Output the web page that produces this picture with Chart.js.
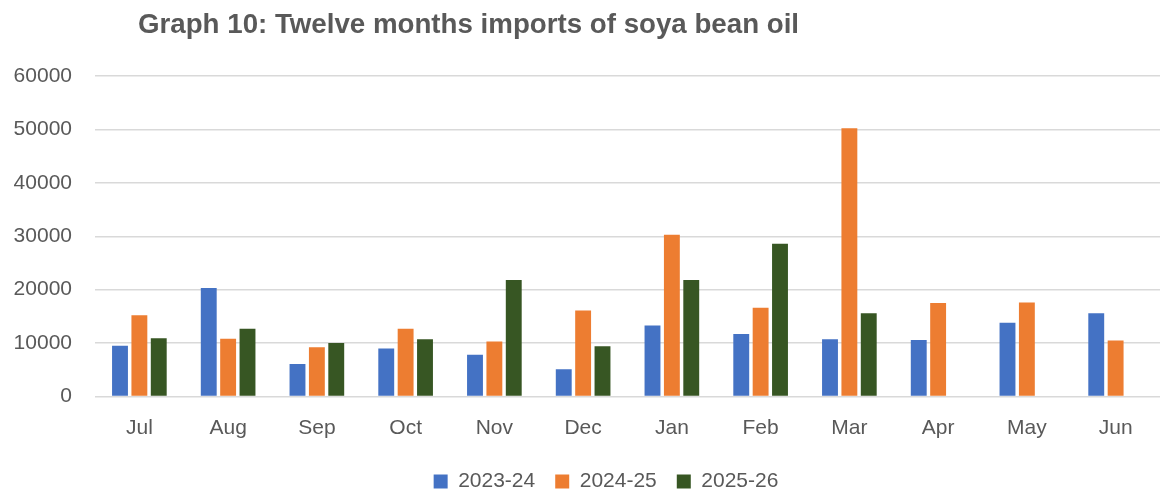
<!DOCTYPE html>
<html>
<head>
<meta charset="utf-8">
<script src="https://cdn.jsdelivr.net/npm/chart.js@4"></script>
<style>
  html, body { margin: 0; padding: 0; background: #ffffff; overflow: hidden; }
  #wrap { position: relative; width: 1176px; height: 493px; overflow: hidden; }
  #title { position: absolute; left: 138px; top: 8px; font-family: "Liberation Sans", Arial, sans-serif; font-weight: bold; font-size: 27.7px; color: #595959; white-space: nowrap; }
  canvas { position: absolute; left: 0; top: 0; }
</style>
</head>
<body>
<div id="wrap">
  <canvas id="c" width="1176" height="502"></canvas>
  <div id="title">Graph 10: Twelve months imports of soya bean oil</div>
</div>
<script>
const months = ["Jul","Aug","Sep","Oct","Nov","Dec","Jan","Feb","Mar","Apr","May","Jun"];
const seriesNames = ["2023-24","2024-25","2025-26"];
const s2023_24 = [9500, 20300, 6100, 9000, 7800, 5100, 13300, 11700, 10700, 10600, 13800, 15600];
const s2024_25 = [15200, 10800, 9200, 12700, 10300, 16100, 30300, 16600, 50200, 17500, 17600, 10500];
const s2025_26 = [10900, 12700, 10000, 10700, 21800, 9400, 21800, 28600, 15600, null, null, null];
const yTicks = [0, 10000, 20000, 30000, 40000, 50000, 60000];
const colors = ["#4472C4", "#ED7D31", "#375623"];

const font = { family: "'Liberation Sans', Arial, sans-serif", size: 21 };
const textColor = "#595959";

const legendShift = {
  id: "legendShift",
  afterLayout(chart) {
    if (chart.legend) { chart.legend.left += 26; chart.legend.right += 26; }
  }
};

new Chart(document.getElementById("c"), {
  type: "bar",
  plugins: [legendShift],
  data: {
    labels: months,
    datasets: [s2023_24, s2024_25, s2025_26].map((d, i) => ({
      label: seriesNames[i],
      data: d,
      backgroundColor: colors[i],
      borderWidth: 0,
      categoryPercentage: 0.655,
      barPercentage: 0.82
    }))
  },
  options: {
    responsive: false,
    animation: false,
    layout: { padding: { top: 76, right: 16, left: 0, bottom: 0 } },
    plugins: {
      title: { display: false },
      tooltip: { enabled: false },
      legend: {
        position: "bottom",
        labels: { font: font, color: textColor, boxWidth: 14, boxHeight: 14, padding: 20 }
      }
    },
    scales: {
      x: {
        grid: { display: false, drawTicks: false },
        border: { display: false },
        ticks: { font: font, color: textColor, padding: 19 },
        afterFit: s => { s.height = 54.5; }
      },
      y: {
        min: 0, max: 60000,
        afterBuildTicks: s => { s.ticks = yTicks.map(v => ({ value: v })); },
        grid: { color: "#d9d9d9", lineWidth: 1.5, drawTicks: false },
        border: { display: false },
        ticks: { font: font, color: textColor, padding: 23, callback: v => String(v) },
        afterFit: s => { s.width = 95; }
      }
    }
  }
});
</script>
</body>
</html>
